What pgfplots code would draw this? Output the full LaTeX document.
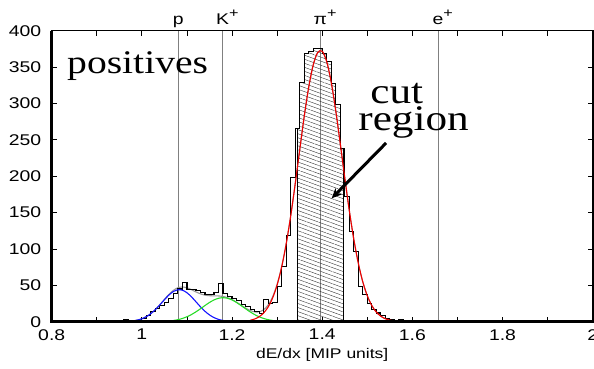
\documentclass[border=0pt]{standalone}
\usepackage{fontspec}
\setmainfont{Liberation Sans}[FakeStretch=1.25]
\newfontfamily\bigserif{Liberation Serif}[FakeStretch=1.2]
\usepackage{pgfplots}
\usepackage{pgfplotstable}
\pgfplotsset{compat=1.18}
\usetikzlibrary{patterns.meta,arrows.meta}

\definecolor{fitblue}{RGB}{20,20,255}
\definecolor{fitgreen}{RGB}{40,220,40}
\definecolor{fitred}{RGB}{240,0,0}
\definecolor{sumgray}{RGB}{150,150,150}
\definecolor{linegray}{RGB}{128,128,128}

% dE/dx histogram: left bin edge, entries (bin width 0.01)
\pgfplotstableread{
x n
0.95 0
0.96 3
0.97 0
0.98 0
0.99 0
1.00 5
1.01 9
1.02 14
1.03 18
1.04 22
1.05 27
1.06 32
1.07 39
1.08 45
1.09 54
1.10 44
1.11 44
1.12 43
1.13 40
1.14 38
1.15 38
1.16 40
1.17 52
1.18 39
1.19 35
1.20 32
1.21 29
1.22 24
1.23 21
1.24 17
1.25 14
1.26 11
1.27 31
1.28 25
1.29 27
1.30 48
1.31 76
1.32 119
1.33 198
1.34 266
1.35 329
1.36 369
1.37 371
1.38 376
1.39 376
1.40 369
1.41 358
1.42 328
1.43 298
1.44 238
1.45 172
1.46 124
1.47 97
1.48 48
1.49 37
1.50 25
1.51 17
1.52 12
1.53 8
1.54 5
1.55 3
1.56 2
1.57 3
1.58 0
1.59 2
1.60 0
1.61 2
1.62 0
1.65 2
1.66 0
1.70 0
}\histo

\newcommand\labfont{\fontsize{14bp}{16bp}\selectfont}
\newcommand\tickfont{\fontsize{15.5bp}{17bp}\selectfont}
\newcommand\plus{\rlap{\raisebox{0.48em}{\fontsize{13bp}{13bp}\selectfont +}}}

\begin{document}
\begin{tikzpicture}
\begin{axis}[
  at={(51.7bp,47.3bp)}, anchor=south west,
  scale only axis, width=541bp, height=291bp,
  xmin=0.8, xmax=2.0, ymin=0, ymax=400,
  xtick={0.8,1,1.2,1.4,1.6,1.8,2},
  xticklabels={0.8,1,1.2,1.4,1.6,1.8,2},
  minor xtick={0.9,1.1,1.3,1.5,1.7,1.9},
  ytick={0,50,100,150,200,250,300,350,400},
  tick align=inside,
  major tick length=5bp, minor tick length=5bp,
  every tick/.style={black, line width=0.8bp},
  axis line style={line width=1.6bp},
  /pgf/number format/assume math mode=true,
  ticklabel style={font=\tickfont},
  xticklabel style={yshift=-4bp},
  yticklabel style={xshift=-7bp},
  xlabel={dE/dx [MIP units]},
  xlabel style={font=\labfont, yshift=-1bp},
  clip=false,
]
% particle hypotheses
\addplot[linegray, line width=0.8bp] coordinates {(1.081,0) (1.081,400)};
\addplot[linegray, line width=0.8bp] coordinates {(1.179,0) (1.179,400)};
\addplot[linegray, line width=0.8bp] coordinates {(1.396,0) (1.396,400)};
\addplot[linegray, line width=0.8bp] coordinates {(1.657,0) (1.657,400)};

% total fit
\addplot[sumgray, line width=1.1bp, smooth] coordinates {
(0.98,1.12) (0.99,2.20) (1.00,4.05) (1.01,6.95) (1.02,11.13) (1.03,16.77)
(1.04,23.45) (1.05,30.69) (1.06,37.58) (1.07,43.16) (1.08,46.66) (1.09,47.73)
(1.10,46.61) (1.11,44.03) (1.12,40.96) (1.13,38.28) (1.14,36.52) (1.15,35.72)
(1.16,35.55) (1.17,35.39) (1.18,34.69) (1.19,33.03) (1.20,30.37) (1.21,26.78)
(1.22,22.75) (1.23,18.74) (1.24,15.47) (1.25,13.49) (1.26,13.54) (1.27,16.37)
(1.28,22.92) (1.29,34.23) (1.30,51.41) (1.31,75.4) (1.32,106.8) (1.33,144.9)
(1.34,188.9) (1.35,235.7) (1.36,281.6) (1.37,322.1) (1.38,352.8) (1.39,370.1)
(1.40,371.7) (1.41,357.5) (1.42,329.2) (1.43,290.2) (1.44,245.1) (1.45,198.1)
(1.46,153.3) (1.47,113.6) (1.48,80.7) (1.49,54.8) (1.50,35.7) (1.51,22.2)
(1.52,13.25) (1.53,7.58) (1.54,4.14) (1.55,2.17) (1.56,1.09) (1.57,0.52)};

% histogram
\addplot[const plot mark left, black, line width=1.1bp] table[x=x, y=n] {\histo};

% cut region
\addplot[const plot mark left, draw=black, line width=1.1bp,
  pattern={Lines[angle=-20, distance=3.8bp, line width=0.4bp]}, pattern color=black!80]
  coordinates {(1.345,0) (1.345,266) (1.35,329) (1.36,369) (1.37,371) (1.38,376)
  (1.39,376) (1.40,369) (1.41,358) (1.42,328) (1.43,298) (1.44,238) (1.447,0)} \closedcycle;

% proton component
\addplot[fitblue, line width=1.1bp, smooth] coordinates {
(0.98,1.12) (0.99,2.20) (1.00,4.05) (1.01,6.95) (1.02,11.13) (1.03,16.64)
(1.04,23.19) (1.05,30.18) (1.06,36.64) (1.07,41.50) (1.08,43.86) (1.09,43.26)
(1.10,39.81) (1.11,34.19) (1.12,27.39) (1.13,20.48) (1.14,14.29) (1.15,9.30)
(1.16,5.65) (1.17,3.20) (1.18,1.69) (1.19,0.84) (1.20,0.38)};

% kaon component
\addplot[fitgreen, line width=1.1bp, smooth] coordinates {
(1.07,1.66) (1.08,2.80) (1.09,4.47) (1.10,6.80) (1.11,9.84) (1.12,13.57)
(1.13,17.80) (1.14,22.23) (1.15,26.42) (1.16,29.90) (1.17,32.19) (1.18,33.00)
(1.19,32.19) (1.20,29.90) (1.21,26.42) (1.22,22.23) (1.23,17.80) (1.24,13.57)
(1.25,9.84) (1.26,6.80) (1.27,4.47) (1.28,2.80) (1.29,1.66) (1.30,0.93)};

% pion component
\addplot[fitred, line width=1.1bp, smooth] coordinates {
(1.24,1.90) (1.25,3.65) (1.26,6.74) (1.27,11.90) (1.28,20.12) (1.29,32.57)
(1.30,50.48) (1.31,74.93) (1.32,106.5) (1.33,144.9) (1.34,188.9) (1.35,235.7)
(1.36,281.6) (1.37,322.1) (1.38,352.8) (1.39,370.1) (1.40,371.7) (1.41,357.5)
(1.42,329.2) (1.43,290.2) (1.44,245.1) (1.45,198.1) (1.46,153.3) (1.47,113.6)
(1.48,80.7) (1.49,54.8) (1.50,35.7) (1.51,22.2) (1.52,13.25) (1.53,7.58)
(1.54,4.14) (1.55,2.17) (1.56,1.09) (1.57,0.52)};

% heavier frame on the left and bottom
\draw[line width=3bp] (rel axis cs:0,1) -- (rel axis cs:0,0) -- (rel axis cs:1,0);

% hypothesis labels
\node[anchor=base, font=\tickfont, inner sep=0pt] at (axis cs:1.081,408) {p};
\node[anchor=base, font=\tickfont, inner sep=0pt] at (axis cs:1.179,408) {K\plus};
\node[anchor=base, font=\tickfont, inner sep=0pt] at (axis cs:1.396,408) {π\plus};
\node[anchor=base, font=\tickfont, inner sep=0pt] at (axis cs:1.657,408) {e\plus};

\node[anchor=base west, inner sep=0pt, font=\bigserif\fontsize{33bp}{36bp}\selectfont]
  at (axis cs:0.834,341) {positives};
\node[anchor=base west, inner sep=0pt, font=\bigserif\fontsize{36bp}{40bp}\selectfont]
  at (axis cs:1.5066,300) {cut};
\node[anchor=base west, inner sep=0pt, font=\bigserif\fontsize{36bp}{40bp}\selectfont]
  at (axis cs:1.4799,263.5) {region};
\draw[line width=3bp, -{Stealth[length=10bp,width=9bp]}]
  (axis cs:1.5416,245.6) -- (axis cs:1.4211,169.6);
\end{axis}
\pgfresetboundingbox
\path[use as bounding box] (0,0) rectangle (594bp,369bp);
\end{tikzpicture}
\end{document}
